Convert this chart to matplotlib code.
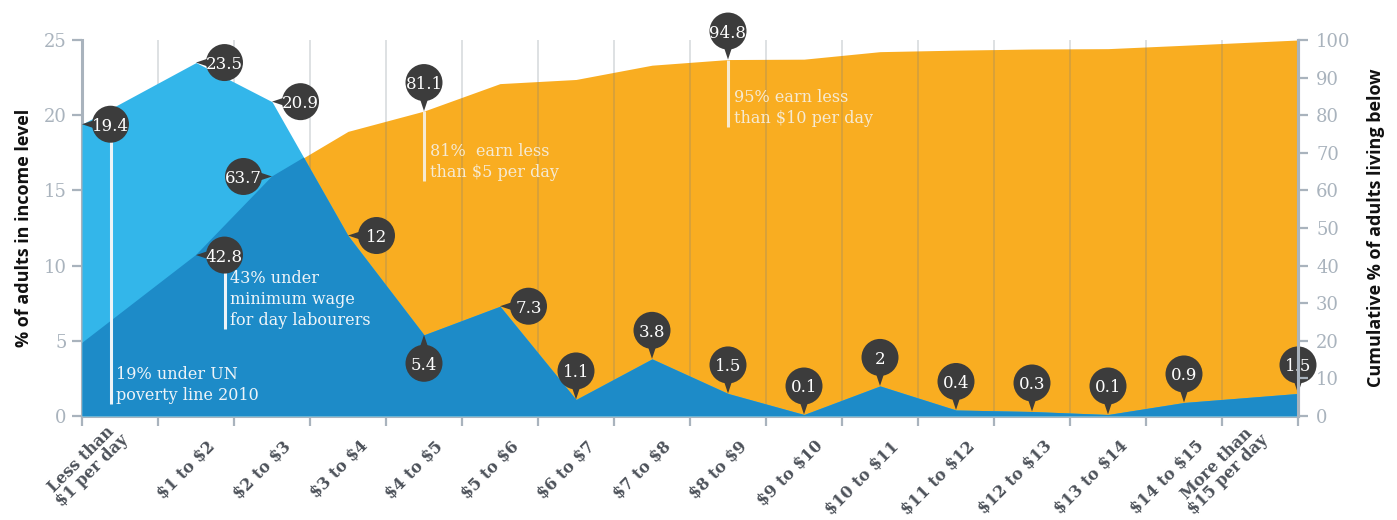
import numpy as np
import matplotlib
matplotlib.use("Agg")
import matplotlib.pyplot as plt
from matplotlib.patches import Circle, Polygon
from matplotlib.transforms import ScaledTranslation

plt.rcParams["text.parse_math"] = False

# data
categories = ["Less than\n$1 per day", "$1 to $2", "$2 to $3", "$3 to $4", "$4 to $5",
              "$5 to $6", "$6 to $7", "$7 to $8", "$8 to $9", "$9 to $10", "$10 to $11",
              "$11 to $12", "$12 to $13", "$13 to $14", "$14 to $15", "More than\n$15 per day"]
share = [19.4, 23.5, 20.9, 12, 5.4, 7.3, 1.1, 3.8, 1.5, 0.1, 2, 0.4, 0.3, 0.1, 0.9, 1.5]
cumulative = [19.4, 42.8, 63.7, 75.7, 81.1, 88.4, 89.5, 93.3, 94.8, 94.9, 96.9, 97.3, 97.6, 97.7, 98.6, 100]

share_dirs = ["left", "left", "left", "left", "up", "left", "down", "down", "down",
              "down", "down", "down", "down", "down", "down", "down"]
cum_labels = {1: "left", 2: "right", 4: "down", 8: "down"}

notes = [  # (series, index, text, end value on left axis, colour)
    ("share", 0, "19% under UN\npoverty line 2010", 0.8, "#eef4f8"),
    ("cum", 1, "43% under\nminimum wage\nfor day labourers", 5.8, "#eef4f8"),
    ("cum", 4, "81%  earn less\nthan $5 per day", 15.6, "#f6ead2"),
    ("cum", 8, "95% earn less\nthan $10 per day", 19.2, "#f6ead2"),
]

LIGHT = "#33b6ea"
DARK = "#1d8bc8"
ORANGE = "#f9ad21"
BUB = "#3c3c3c"
AXIS = "#a9b3bd"

n = len(share)
x = np.arange(n) + 0.5
x[0] = 0
x[-1] = n
cum_left = np.array(cumulative) / 4.0   # right axis 0-100 onto left axis 0-25

fig = plt.figure(figsize=(13.97, 5.2), dpi=100)
ax = fig.add_axes([82 / 1397, 104 / 520, 1216 / 1397, 376 / 520])

ax.fill_between(x, 0, cum_left, color=ORANGE, lw=0, zorder=1)
for gx in range(1, n):
    ax.axvline(gx, color="#6f7b88", alpha=0.25, lw=1.3, zorder=2)
ax.fill_between(x, 0, share, color=LIGHT, lw=0, zorder=3)
dark = ax.fill_between(x, 0, share, color=DARK, lw=0, zorder=4)
clip = Polygon([(x[0], 0)] + list(zip(x, cum_left)) + [(x[-1], 0)], closed=True,
               transform=ax.transData)
dark.set_clip_path(clip)

ax.set_xlim(0, n)
ax.set_ylim(0, 25)

R = 0.185
D = 0.285


def bubble(xv, yv, text, d):
    offs = {"down": (0, D), "up": (0, -D), "left": (D, 0), "right": (-D, 0)}
    cx, cy = offs[d]
    ux, uy = cx / D, cy / D
    px, py = -uy, ux
    tr = fig.dpi_scale_trans + ScaledTranslation(xv, yv, ax.transData)
    tri = Polygon([(0, 0), (ux * 0.15 + px * 0.05, uy * 0.15 + py * 0.05),
                   (ux * 0.15 - px * 0.05, uy * 0.15 - py * 0.05)],
                  closed=True, transform=tr, fc=BUB, ec="none", zorder=6, clip_on=False)
    circ = Circle((cx, cy), R, transform=tr, fc=BUB, ec="none", zorder=6, clip_on=False)
    ax.add_artist(tri)
    ax.add_artist(circ)
    ax.annotate(text, (xv, yv), xytext=(cx * 72, cy * 72), textcoords="offset points",
                ha="center", va="center_baseline", color="white", fontsize=12,
                family="DejaVu Serif", zorder=7, annotation_clip=False)
    return cx, cy


centers = {}
for i, v in enumerate(share):
    centers[("share", i)] = bubble(x[i], v, f"{v:g}", share_dirs[i])
for i, d in cum_labels.items():
    centers[("cum", i)] = bubble(x[i], cum_left[i], f"{cumulative[i]:g}", d)

for series, i, text, yend, col in notes:
    ystart = share[i] if series == "share" else cum_left[i]
    cx, cy = centers[(series, i)]
    tr = ax.transData + ScaledTranslation(cx, 0, fig.dpi_scale_trans)
    ax.plot([x[i], x[i]], [ystart, yend], color=col, lw=2.2, transform=tr,
            zorder=5, solid_capstyle="butt")
    tr2 = ax.transData + ScaledTranslation(cx + 0.06, 0, fig.dpi_scale_trans)
    ax.text(x[i], yend, text, transform=tr2, ha="left", va="bottom", color=col,
            fontsize=11.5, family="DejaVu Serif", linespacing=1.3, zorder=5)

# axes styling
ax.spines["top"].set_visible(False)
for s in ["left", "bottom", "right"]:
    ax.spines[s].set_color(AXIS)
    ax.spines[s].set_linewidth(2.2)
ax.set_xticks(range(n + 1))
ax.set_xticklabels([])
ax.tick_params(axis="x", which="major", length=7, width=1.6, color=AXIS)
ax.set_xticks(np.arange(n) + 0.5, minor=True)
ax.set_xticklabels(categories, minor=True, rotation=45, ha="right", va="center",
                   rotation_mode="anchor", fontsize=11.5, fontweight="bold",
                   family="DejaVu Serif", color="#4d525a", multialignment="center",
                   linespacing=0.95)
ax.tick_params(axis="x", which="minor", length=0, pad=20)
for lab in ax.get_xticklabels(minor=True):
    dx = 0.17
    if "\n" in lab.get_text():
        lab.set_va("bottom")
        dx = 0.12
    lab.set_transform(lab.get_transform() + ScaledTranslation(dx, 0, fig.dpi_scale_trans))

ax.set_yticks(range(0, 26, 5))
ax.tick_params(axis="y", length=7, width=1.6, color=AXIS, labelcolor=AXIS,
               labelsize=13, pad=4)
for lab in ax.get_yticklabels():
    lab.set_family("DejaVu Serif")
ax.set_ylabel("% of adults in income level", fontsize=13, fontweight="bold",
              family="Open Sans", color="#111111", labelpad=8)

ax2 = ax.twinx()
ax2.set_ylim(0, 100)
ax2.set_yticks(range(0, 101, 10))
for s in ["top", "left", "bottom"]:
    ax2.spines[s].set_visible(False)
ax2.spines["right"].set_color(AXIS)
ax2.spines["right"].set_linewidth(2.2)
ax2.tick_params(axis="y", length=7, width=1.6, color=AXIS, labelcolor=AXIS,
                labelsize=13, pad=6)
for lab in ax2.get_yticklabels():
    lab.set_family("DejaVu Serif")
ax2.set_ylabel("Cumulative % of adults living below", fontsize=13, fontweight="bold",
               family="Open Sans", color="#111111", labelpad=12)

fig.savefig("out.png", dpi=100)
